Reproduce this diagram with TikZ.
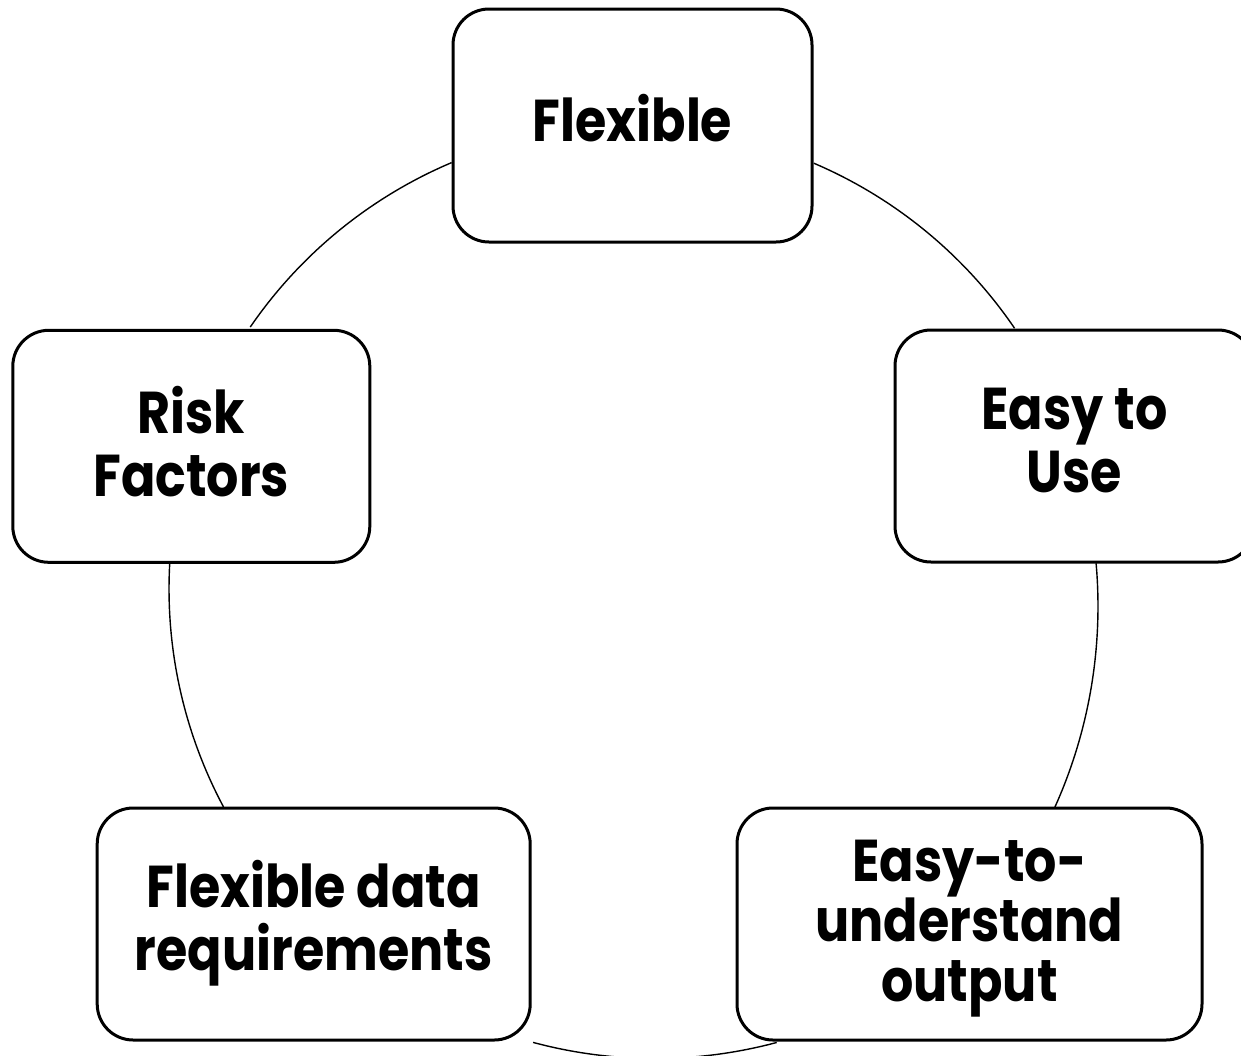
\documentclass[tikz,border=0pt]{standalone}
\usepackage{fontspec}
\setmainfont{Poppins}[FakeStretch=0.86]
\begin{document}
\begin{tikzpicture}[x=1pt,y=-1pt,
  box/.style={draw=black, line width=3pt, rounded corners=36pt, fill=white,
    inner sep=0pt, minimum height=232pt},
  txt/.style={align=center, inner sep=0pt, yshift=5pt,
    font=\fontsize{59}{63}\selectfont\bfseries},
  link/.style={draw=black, line width=1.4pt}]
\useasboundingbox (0,0) rectangle (1241,1055);
% circle centres of the connecting arcs
\coordinate (CL) at (632,589);
\coordinate (CB) at (655,588.5);
\coordinate (CR) at (609,606.4);
% connectors
\draw[link] ([shift={(-112.93:463)}]CL) arc[start angle=-112.93, end angle=-145.54, radius=463];
\draw[link] ([shift={(-176.8:463)}]CL) arc[start angle=-176.8, end angle=-208.08, radius=463];
\draw[link] ([shift={(105.03:470)}]CB) arc[start angle=105.03, end angle=74.99, radius=470];
\draw[link] ([shift={(-5.06:489)}]CR) arc[start angle=-5.06, end angle=24.38, radius=489];
\draw[link] ([shift={(-66.88:463)}]CL) arc[start angle=-66.88, end angle=-34.28, radius=463];
% boxes
\node[box, minimum width=359pt, minimum height=233pt] (flex) at (632.5,125.5) {};
\node[box, minimum width=359pt] (easy) at (1074.5,446) {};
\node[box, minimum width=465pt] (under) at (969.5,924) {};
\node[box, minimum width=433pt] (data) at (313.7,924) {};
\node[box, minimum width=357pt] (risk) at (191.3,446.3) {};
% labels
\node[txt, yshift=2pt] (flexT) at (flex.center) {Flexible};
\node[txt] (easyT) at (easy.center) {Easy to\\Use};
\node[txt, yshift=-9.5pt, font=\fontsize{59}{60}\selectfont\bfseries] (underT) at (under.center) {Easy-to-\\understand\\output};
\node[txt, yshift=-4pt] (dataT) at (data.center) {Flexible data\\requirements};
\node[txt] (riskT) at (risk.center) {Risk\\Factors};
\end{tikzpicture}
\end{document}
